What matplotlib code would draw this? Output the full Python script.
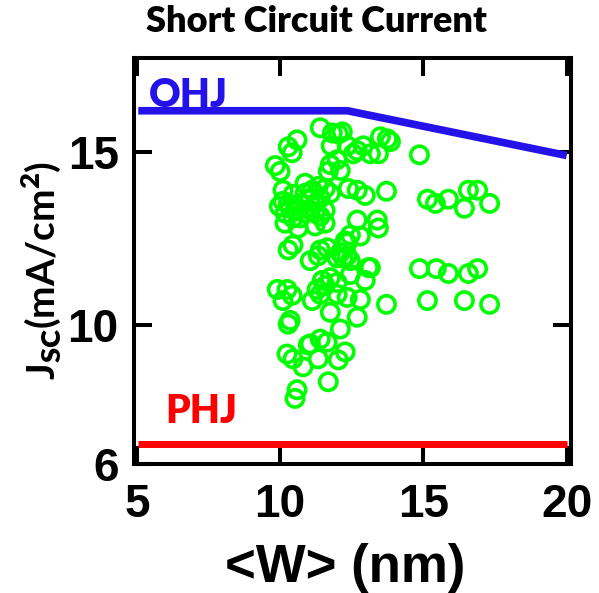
import matplotlib
matplotlib.use("Agg")
import matplotlib.pyplot as plt

plt.rcParams['font.family'] = ['Lato', 'DejaVu Sans']
plt.rcParams['font.weight'] = 'bold'
plt.rcParams['mathtext.fontset'] = 'custom'
plt.rcParams['mathtext.rm'] = 'Lato:heavy'
plt.rcParams['mathtext.it'] = 'Lato:heavy'
plt.rcParams['mathtext.bf'] = 'Lato:heavy'
plt.rcParams['mathtext.default'] = 'rm'

ARIAL = ['Liberation Sans', 'DejaVu Sans']

# Data
ohj_x = [5.05, 12.35, 20.0]
ohj_y = [16.18, 16.18, 14.89]
phj_x = [5.05, 20.0]
phj_y = [6.58, 6.58]

w_nm = [11.40, 11.82, 12.03, 12.17, 10.59, 10.28, 10.42, 9.83, 10.00, 11.78,
        11.99, 11.68, 12.10, 12.34, 12.69, 12.90, 13.15, 13.43, 13.50, 13.74,
        13.85, 12.55, 11.75,
        14.86, 13.71, 15.14, 15.42, 15.87, 16.43, 16.57, 16.89, 17.31, 14.86,
        15.45, 15.87, 16.57, 16.89, 15.14, 16.43, 17.31, 13.71,
        12.38, 12.69, 12.97, 12.69, 13.39, 13.43, 12.45, 12.80, 12.34, 12.34,
        13.08, 12.97, 12.45, 11.99, 12.27, 12.20, 11.99, 12.10,
        10.10, 10.17, 10.35, 10.70, 11.05, 11.40, 11.22, 11.57, 10.70, 10.10,
        11.12, 11.33, 10.45, 10.87, 11.75, 11.57, 11.05, 11.40, 10.52, 10.63,
        11.22, 10.87,
        10.28, 10.45, 11.05, 11.33, 11.40, 11.64, 9.90, 10.24, 10.42, 10.10,
        11.29, 11.57, 11.40, 11.12, 11.99, 12.34, 12.80, 11.75, 12.69, 10.28,
        10.35, 12.10, 11.05, 11.40, 11.64, 10.24, 10.45, 10.80, 11.33, 12.03,
        12.27, 11.68, 10.59, 10.52, 10.98,
        10.17, 10.45, 11.57, 11.22, 10.87, 9.97, 10.28, 11.47, 11.75, 12.45,
        13.15]
jsc = [15.69, 15.54, 15.51, 15.57, 15.34, 15.14, 14.97, 14.60, 14.43, 15.17,
       14.77, 14.43, 14.46, 15.17, 15.03, 15.17, 14.94, 14.94, 15.43, 15.37,
       15.29, 14.94, 14.63,
       14.91, 13.86, 13.63, 13.51, 13.63, 13.37, 13.89, 13.89, 13.51, 11.63,
       11.63, 11.49, 11.49, 11.63, 10.71, 10.71, 10.60, 10.60,
       13.94, 13.89, 13.74, 13.03, 13.03, 12.80, 12.60, 12.57, 12.37, 12.00,
       11.66, 11.29, 11.46, 11.23, 12.43, 11.94, 11.94, 12.09,
       13.57, 13.23, 13.37, 13.51, 13.66, 13.66, 13.23, 13.31, 13.09, 13.89,
       13.89, 14.00, 13.77, 13.80, 13.80, 13.94, 13.31, 13.14, 13.31, 12.80,
       13.51, 13.23,
       12.17, 12.31, 11.86, 12.00, 12.17, 12.23, 11.03, 11.03, 10.86, 10.71,
       11.03, 11.14, 10.89, 10.71, 10.89, 10.80, 10.74, 10.37, 10.23, 10.03,
       10.14, 9.89, 9.46, 9.60, 9.51, 9.17, 9.03, 8.80, 9.03, 9.00,
       9.23, 8.37, 8.14, 7.89, 9.43,
       12.94, 13.09, 12.94, 12.86, 14.09, 13.43, 13.51, 11.29, 11.37, 11.86,
       11.66]

xticks = [5, 10, 15, 20]
yticks = [6, 10, 15]

fig = plt.figure(figsize=(5.99, 5.93), dpi=100)
ax = fig.add_axes([134 / 599, 1 - 464 / 593, 437 / 599, 406 / 593])

ax.plot(ohj_x, ohj_y, color='#2412E8', lw=5.5, solid_capstyle='butt', zorder=3)
ax.plot(phj_x, phj_y, color='#FF0000', lw=5.0, solid_capstyle='butt', zorder=3)
ax.scatter(w_nm, jsc, s=155, facecolors='none', edgecolors='#00FF00',
           linewidths=2.6, zorder=2)

ax.text(5.42, 16.29, 'OHJ', color='#2412E8', fontsize=28, fontweight='heavy',
        ha='left', va='baseline')
ax.text(5.98, 7.17, 'PHJ', color='#FF0000', fontsize=28, fontweight='heavy',
        ha='left', va='baseline')

ax.set_xlim(4.9, 20.15)
ax.set_ylim(6.1, 17.7)
ax.set_xticks(xticks)
ax.set_yticks(yticks)
ax.tick_params(direction='in', length=13, width=2.9, labelsize=33,
               top=True, right=True)
ax.tick_params(axis='x', pad=14)
ax.tick_params(axis='y', pad=11)
for lab in ax.get_xticklabels() + ax.get_yticklabels():
    lab.set_fontweight('bold')
    lab.set_family(ARIAL)
for sp in ax.spines.values():
    sp.set_linewidth(2.9)

fig.text(316 / 599, 1 - 22 / 593, 'Short Circuit Current', fontsize=26,
         fontweight='heavy', ha='center', va='center')
fig.text(345 / 599, 1 - 568 / 593, '<W> (nm)', fontsize=38, fontweight='bold',
         family=ARIAL, ha='center', va='center')
fig.text(41 / 599, 1 - 270 / 593, r'J$_{SC}$(mA/cm$^{2}$)', fontsize=28,
         rotation=90, ha='center', va='center')

fig.savefig('out.png', dpi=100)
